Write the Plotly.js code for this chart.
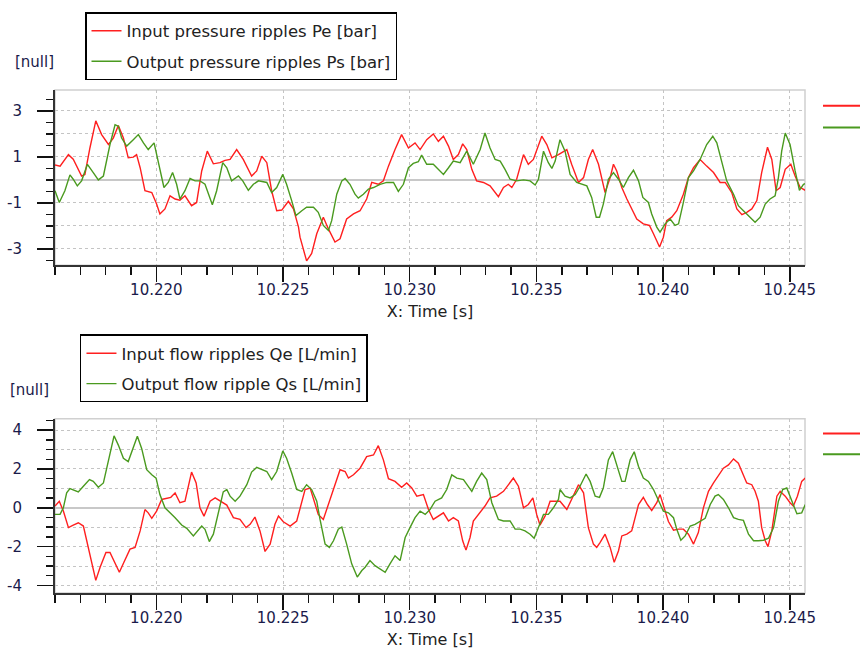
<!DOCTYPE html>
<html>
<head>
<meta charset="utf-8">
<script src="https://cdn.plot.ly/plotly-3.0.1.min.js"></script>
<style>html,body{margin:0;padding:0;background:#fff;}#chart{width:860px;height:662px;}</style>
</head>
<body>
<div id="chart"></div>
<script>
// Time origin (s); time offsets are in milliseconds
const T0 = 10.216;

// Top chart: Input pressure ripples Pe [bar]
const peMs = [0,0.20,0.53,0.72,1.05,1.18,1.38,1.61,1.84,2.11,2.30,2.50,2.70,2.89,3.09,3.22,3.36,3.55,3.82,4.01,4.14,4.34,4.54,4.74,4.93,5.13,5.39,5.59,5.79,6.01,6.25,6.51,6.71,6.91,7.17,7.43,7.76,7.96,8.16,8.36,8.55,8.75,8.95,9.21,9.41,9.61,9.67,
  9.93,10.13,10.33,10.59,10.79,11.05,11.25,11.51,11.78,12.04,12.30,12.50,12.76,12.96,13.16,13.42,13.68,13.95,14.21,14.41,14.67,14.93,15.13,15.33,15.53,15.72,15.92,16.09,16.25,16.45,16.64,16.91,17.17,17.50,17.70,17.89,18.03,18.22,18.49,18.68,18.88,19.21,19.41,19.61,19.87,
  20.20,20.39,20.66,20.86,21.05,21.22,21.45,21.71,21.91,22.04,22.17,22.37,22.57,22.76,22.96,23.22,23.46,23.62,23.86,24.01,24.14,24.34,24.54,24.80,25.00,25.20,25.46,25.72,25.99,26.25,26.45,26.71,26.91,27.11,27.30,27.50,27.70,27.89,28.12,28.29,28.46,28.62,28.82,29.04,29.21,29.41,29.61];
const peVal = [0.65,0.60,1.10,0.90,0.17,0.24,1.40,2.57,1.97,1.54,1.82,2.37,1.82,0.96,0.99,1.10,0.53,-0.47,-0.55,-1.05,-1.48,-1.26,-0.69,-0.83,-0.88,-0.69,-1.12,-0.98,0.39,1.25,0.70,0.75,0.85,0.89,1.32,0.89,0.17,0.39,1.03,0.75,-0.47,-1.34,-1.31,-0.93,-1.26,-2.05,-2.49,
  -3.52,-3.20,-2.34,-1.62,-2.13,-2.70,-2.56,-1.70,-1.48,-1.34,-0.83,-0.11,-0.19,-0.04,0.60,1.32,1.97,1.39,1.61,1.32,1.75,2.00,1.68,1.90,1.47,0.89,1.10,1.57,1.32,0.46,-0.04,-0.11,-0.26,-0.73,-0.33,-0.19,-0.33,0.03,1.10,0.68,0.89,1.90,1.54,0.96,1.10,
  1.32,0.68,-0.11,0.10,0.89,1.32,0.68,-0.55,0.10,0.68,0.39,-0.33,-0.83,-1.26,-1.70,-1.91,-1.98,-2.34,-2.92,-2.49,-1.77,-1.62,-1.34,-0.62,0.10,0.53,0.89,0.60,0.32,-0.11,-0.11,-0.55,-1.26,-1.51,-1.41,-1.26,-0.90,0.32,1.42,0.89,-0.47,-0.33,0.46,0.68,0.17,-0.33,-0.45];

// Top chart: Output pressure ripples Ps [bar]
const psMs = [0,0.17,0.39,0.59,0.72,0.88,1.05,1.28,1.51,1.71,1.91,2.17,2.37,2.50,2.63,2.83,3.09,3.29,3.49,3.68,3.91,4.08,4.30,4.47,4.64,4.80,4.93,5.13,5.33,5.53,5.72,5.92,6.05,6.21,6.38,6.62,6.78,6.97,7.24,7.41,7.63,7.83,8.03,8.36,8.55,8.75,8.99,9.14,9.34,9.51,
  9.74,9.93,10.20,10.39,10.59,10.79,10.92,11.12,11.32,11.45,11.64,11.84,11.97,12.17,12.37,12.57,12.83,13.09,13.36,13.55,13.75,13.95,14.14,14.34,14.47,14.67,14.93,15.13,15.33,15.53,15.72,15.99,16.25,16.51,16.78,16.97,17.17,17.37,17.57,17.76,17.96,18.22,18.49,18.75,18.95,19.08,19.28,19.47,19.61,19.74,19.93,
  20.13,20.33,20.59,20.79,20.99,21.18,21.36,21.49,21.64,21.84,22.04,22.24,22.43,22.63,22.83,23.03,23.20,23.42,23.55,23.75,23.88,24.08,24.28,24.47,24.61,24.80,25.00,25.20,25.46,25.72,25.96,26.12,26.32,26.51,26.78,26.97,27.17,27.43,27.63,27.83,28.03,28.22,28.42,28.55,28.68,28.82,29.01,29.21,29.38,29.54,29.61];
const psVal = [-0.47,-0.98,-0.47,0.22,0.03,-0.26,-0.04,0.68,0.32,0.00,0.17,1.54,2.40,2.33,1.82,1.47,1.75,1.97,1.61,1.32,1.61,0.82,-0.33,-0.11,0.32,-0.19,-0.83,-0.47,0.06,-0.04,-0.04,-0.19,-0.62,-1.08,-0.47,0.75,0.53,-0.04,0.17,-0.04,-0.45,-0.19,-0.04,-0.11,-0.55,-0.33,0.24,-0.19,-0.90,-1.55,
  -1.34,-1.19,-1.19,-1.41,-1.98,-2.20,-1.77,-0.62,-0.04,0.06,-0.19,-0.62,-0.79,-0.62,-0.40,-0.33,-0.19,-0.11,-0.11,-0.50,-0.19,0.53,0.72,0.79,1.08,0.68,0.68,0.46,0.24,0.53,0.82,0.75,1.25,0.68,1.32,2.04,1.39,0.89,0.82,0.46,0.03,-0.04,0.00,-0.04,-0.22,0.03,1.25,0.75,0.50,0.82,1.75,
  1.25,0.24,-0.11,-0.19,-0.26,-0.76,-1.62,-1.62,-1.05,0.03,0.32,0.03,-0.33,0.10,0.42,-0.04,-0.76,-0.98,-1.48,-2.05,-2.27,-1.91,-1.70,-1.98,-1.91,-0.98,0.10,0.39,0.89,1.54,1.90,1.61,0.82,-0.04,-0.62,-1.12,-1.34,-1.62,-1.84,-1.62,-1.05,-0.83,-0.69,0.10,1.25,2.04,1.54,0.39,-0.45,-0.19,-0.16];

// Bottom chart: Input flow ripples Qe [L/min]
const qeMs = [0,0.17,0.33,0.53,0.72,0.92,1.12,1.32,1.45,1.61,1.78,2.01,2.17,2.37,2.54,2.72,2.96,3.16,3.36,3.55,3.68,3.82,4.01,4.21,4.41,4.57,4.74,4.93,5.13,5.39,5.57,5.72,5.88,6.12,6.32,6.51,6.78,7.04,7.30,7.54,7.70,7.89,8.09,8.29,8.49,8.68,8.82,9.01,9.28,9.54,
  9.67,9.87,10.07,10.20,10.39,10.59,10.79,11.05,11.25,11.45,11.58,11.78,12.04,12.30,12.57,12.76,12.96,13.16,13.42,13.68,13.88,14.08,14.28,14.54,14.74,14.93,15.13,15.33,15.53,15.72,15.92,16.09,16.22,16.38,16.51,16.71,16.97,17.17,17.43,17.70,17.89,18.09,18.29,18.49,18.68,18.86,19.01,19.14,19.34,19.54,19.74,19.93,
  20.20,20.39,20.66,20.86,21.05,21.25,21.38,21.51,21.71,21.91,22.07,22.24,22.37,22.57,22.76,23.03,23.22,23.38,23.55,23.75,23.88,24.04,24.21,24.41,24.61,24.80,25.00,25.20,25.39,25.59,25.79,25.99,26.18,26.38,26.58,26.78,26.97,27.17,27.30,27.50,27.63,27.76,27.89,28.03,28.14,28.29,28.49,28.62,28.82,29.01,29.14,29.30,29.47,29.61];
const qeVal = [0.09,0.34,-0.17,-1.02,-0.89,-0.77,-0.94,-2.04,-2.89,-3.74,-3.06,-2.30,-2.30,-2.89,-3.32,-2.81,-2.13,-2.04,-1.19,-0.09,-0.26,-0.54,-0.17,0.43,0.51,0.54,0.77,0.26,0.34,1.84,1.28,0.00,-0.43,0.34,0.51,0.34,0.14,-0.51,-0.60,-1.02,-0.85,-0.48,-1.19,-2.25,-1.87,-0.85,-0.43,-0.72,-0.94,-0.68,
  -0.09,0.94,1.02,0.51,-0.34,-0.60,0.17,1.19,1.96,1.87,1.53,1.70,2.04,2.64,2.72,3.20,2.47,1.50,1.36,1.06,1.28,1.02,0.60,0.68,-0.09,-0.60,-0.43,-0.26,-0.68,-0.51,-0.68,-1.70,-2.18,-1.53,-0.68,-0.34,0.09,0.51,0.60,0.85,1.19,1.53,1.11,0.00,0.17,0.51,-0.34,-0.89,-0.43,0.34,0.34,0.34,
  -0.09,0.43,1.19,0.77,-1.02,-1.87,-2.04,-1.79,-1.36,-2.04,-2.81,-2.21,-1.45,-1.36,-1.19,0.17,0.54,0.17,-0.14,0.26,0.68,0.00,-0.71,-1.15,-1.10,-1.10,-1.36,-1.87,-1.28,0.00,0.85,1.28,1.62,2.04,2.21,2.52,2.30,1.62,1.28,1.19,0.85,0.34,-1.02,-1.70,-2.00,-1.19,0.60,0.85,0.60,0.26,0.09,0.60,1.36,1.53];

// Bottom chart: Output flow ripple Qs [L/min]
const qsMs = [0,0.20,0.33,0.46,0.59,0.75,0.92,1.12,1.36,1.51,1.71,1.91,2.11,2.33,2.50,2.70,2.89,3.09,3.25,3.42,3.62,3.82,3.99,4.14,4.34,4.54,4.74,5.00,5.20,5.46,5.62,5.79,5.92,6.09,6.25,6.45,6.64,6.78,6.91,7.11,7.30,7.57,7.76,7.96,8.16,8.36,8.55,8.75,8.99,9.14,9.34,9.54,
  9.74,9.93,10.13,10.33,10.46,10.66,10.83,10.99,11.18,11.32,11.51,11.71,11.93,12.11,12.24,12.43,12.63,12.83,13.03,13.22,13.42,13.62,13.82,14.01,14.21,14.41,14.61,14.80,15.00,15.26,15.46,15.66,15.86,16.12,16.32,16.45,16.64,16.84,17.04,17.24,17.50,17.70,17.96,18.16,18.36,18.55,18.75,18.91,19.08,19.28,19.47,19.67,19.87,
  19.93,20.13,20.33,20.53,20.72,20.96,21.12,21.32,21.49,21.64,21.84,22.01,22.20,22.37,22.50,22.70,22.86,23.03,23.22,23.42,23.62,23.82,24.01,24.21,24.41,24.54,24.70,24.87,25.07,25.26,25.46,25.66,25.86,26.05,26.18,26.38,26.58,26.78,26.97,27.17,27.37,27.57,27.76,27.96,28.16,28.36,28.55,28.72,28.88,29.08,29.28,29.47,29.61];
const qsVal = [-0.34,-0.34,0.00,0.77,0.99,0.89,0.82,1.11,1.45,1.36,1.06,1.28,2.38,3.71,3.23,2.55,2.38,3.06,3.69,3.06,1.96,1.70,1.53,0.68,0.00,-0.26,-0.51,-0.89,-1.06,-1.45,-1.19,-0.94,-1.11,-1.74,-1.36,-0.17,0.82,0.94,0.60,0.34,0.60,1.19,1.84,2.08,1.96,1.87,1.45,1.87,2.93,2.55,1.79,0.95,
  0.85,1.19,0.94,0.34,-0.60,-1.87,-2.04,-1.70,-1.10,-0.99,-1.87,-2.89,-3.57,-3.23,-3.06,-2.72,-2.98,-3.15,-3.32,-2.89,-2.47,-2.72,-1.53,-1.02,-0.51,-0.17,-0.34,-0.09,0.34,0.51,0.94,1.70,1.53,1.45,1.11,0.85,1.36,1.79,1.45,0.26,-0.60,-0.68,-0.68,-1.10,-1.10,-1.19,-1.36,-1.57,-1.02,-0.34,-0.34,0.00,0.43,
  0.94,0.60,0.51,0.68,1.11,1.74,1.36,0.60,0.54,1.02,2.47,2.89,2.04,1.36,1.36,2.47,2.89,2.13,1.53,1.36,0.94,0.34,-0.17,-0.26,-0.51,-1.11,-1.67,-1.45,-0.94,-0.85,-0.68,-0.54,0.17,0.60,0.68,0.43,0.00,-0.51,-0.60,-0.65,-1.36,-1.70,-1.70,-1.67,-1.57,-1.02,0.34,0.94,1.02,0.34,-0.31,-0.26,0.17];

const seriesNames = ['Input pressure ripples Pe [bar]', 'Output pressure ripples Ps [bar]',
                     'Input flow ripples Qe [L/min]', 'Output flow ripple Qs [L/min]'];
const topTickVals = [-3, -1, 1, 3];
const topTickText = ['-3', '-1', '1', '3'];
const topGridVals = [-3, -2, -1, 1, 2, 3];
const botTickVals = [-4, -2, 0, 2, 4];
const botTickText = ['-4', '-2', '0', '2', '4'];
const botGridVals = [-4, -3, -2, -1, 1, 2, 3, 4];
const xRange = [10.216, 10.2456];
const unitLabel = '[null]';
const xTitle = 'X: Time [s]';

const RED = '#ff1f1f', GREEN = '#4a9a1f';
const toSec = ms => ms.map(v => T0 + v / 1000);
const FONT = 'DejaVu Sans, Verdana, sans-serif';
const tickFont = {family: FONT, size: 15, color: '#1a1a4a'};

const traces = [
  {x: toSec(peMs), y: peVal, name: seriesNames[0], type: 'scatter', mode: 'lines', line: {color: RED, width: 1.4}, xaxis: 'x', yaxis: 'y', legend: 'legend', legendgroup: 'a'},
  {x: toSec(psMs), y: psVal, name: seriesNames[1], type: 'scatter', mode: 'lines', line: {color: GREEN, width: 1.4}, xaxis: 'x', yaxis: 'y', legend: 'legend', legendgroup: 'b'},
  {x: toSec(qeMs), y: qeVal, name: seriesNames[2], type: 'scatter', mode: 'lines', line: {color: RED, width: 1.4}, xaxis: 'x2', yaxis: 'y2', legend: 'legend2', legendgroup: 'c'},
  {x: toSec(qsMs), y: qsVal, name: seriesNames[3], type: 'scatter', mode: 'lines', line: {color: GREEN, width: 1.4}, xaxis: 'x2', yaxis: 'y2', legend: 'legend2', legendgroup: 'd'},
  // empty helper traces so the grid-only overlay axes get drawn
  {x: [], y: [], xaxis: 'x', yaxis: 'y3', showlegend: false, hoverinfo: 'skip', type: 'scatter', mode: 'lines'},
  {x: [], y: [], xaxis: 'x2', yaxis: 'y4', showlegend: false, hoverinfo: 'skip', type: 'scatter', mode: 'lines'}
];

function xAxis(anchor) {
  return {
    anchor: anchor, domain: [0, 1], range: xRange,
    tickmode: 'linear', tick0: 10.22, dtick: 0.005, tickformat: '.3f',
    ticks: 'outside', ticklen: 15, tickwidth: 1.5, tickcolor: '#111',
    showline: true, linecolor: '#333', linewidth: 2,
    showgrid: true, gridcolor: '#c4c4c4', griddash: 'dot', gridwidth: 1,
    zeroline: false,
    minor: {tickmode: 'linear', tick0: 10.216, dtick: 0.001, ticks: 'outside', ticklen: 8, tickwidth: 1.5, tickcolor: '#111', showgrid: false},
    tickfont: tickFont, ticklabelstandoff: -5,
    title: {text: xTitle, font: {family: FONT, size: 16, color: '#222'}, standoff: 8},
    fixedrange: true
  };
}
function yAxis(anchor, domain, range, tickvals, ticktext) {
  return {
    anchor: anchor, domain: domain, range: range,
    tickmode: 'array', tickvals: tickvals, ticktext: ticktext,
    ticks: 'outside', ticklen: 16, tickwidth: 1.5, tickcolor: '#111',
    showline: true, linecolor: '#333', linewidth: 2,
    showgrid: false,
    zeroline: true, zerolinecolor: '#c8c8c8', zerolinewidth: 2,
    minor: {tickmode: 'linear', tick0: 0, dtick: 0.5, ticks: 'outside', ticklen: 7, tickwidth: 1.5, tickcolor: '#111', showgrid: false},
    tickfont: tickFont, ticklabelstandoff: 12,
    fixedrange: true
  };
}
function gridAxis(overlay, range, tickvals) {
  return {
    overlaying: overlay, anchor: overlay === 'y' ? 'x' : 'x2', range: range,
    tickmode: 'array', tickvals: tickvals, ticks: '', showticklabels: false,
    showline: false, zeroline: false,
    showgrid: true, gridcolor: '#c4c4c4', griddash: 'dot', gridwidth: 1,
    fixedrange: true
  };
}

const topRange = [-3.71, 3.91];
const botRange = [-4.39, 4.59];

const legendBase = {
  xanchor: 'left', yanchor: 'top', bgcolor: '#ffffff',
  bordercolor: '#000000', borderwidth: 1.5,
  font: {family: FONT, size: 16.5, color: '#222'},
  traceorder: 'grouped', tracegroupgap: 6
};

const layout = {
  width: 860, height: 662,
  margin: {l: 55, r: 55, t: 85, b: 69},
  paper_bgcolor: '#ffffff', plot_bgcolor: '#ffffff',
  font: {family: FONT, color: '#222'},
  showlegend: true,
  xaxis: xAxis('y'),
  yaxis: yAxis('x', [0.6516, 1], topRange, topTickVals, topTickText),
  yaxis3: gridAxis('y', topRange, topGridVals),
  xaxis2: xAxis('y2'),
  yaxis2: yAxis('x2', [0, 0.3465], botRange, botTickVals, botTickText),
  yaxis4: gridAxis('y2', botRange, botGridVals),
  legend: Object.assign({x: 0.04, y: 1.155}, legendBase),
  legend2: Object.assign({x: 0.0333, y: 0.514}, legendBase),
  annotations: [
    {text: unitLabel, xref: 'paper', yref: 'paper', x: -0.056, y: 1.055, xanchor: 'left', yanchor: 'middle', showarrow: false, font: {family: FONT, size: 15, color: '#1a1a4a'}},
    {text: unitLabel, xref: 'paper', yref: 'paper', x: -0.063, y: 0.4035, xanchor: 'left', yanchor: 'middle', showarrow: false, font: {family: FONT, size: 15, color: '#1a1a4a'}}
  ],
  shapes: [
    {type: 'rect', xref: 'x domain', yref: 'y domain', x0: 0, x1: 1, y0: 0, y1: 1, line: {color: '#d0d0d0', width: 1.5}, layer: 'below'},
    {type: 'rect', xref: 'x2 domain', yref: 'y2 domain', x0: 0, x1: 1, y0: 0, y1: 1, line: {color: '#d0d0d0', width: 1.5}, layer: 'below'},
    {type: 'line', xref: 'paper', yref: 'paper', x0: 1.024, x1: 1.08, y0: 0.9685, y1: 0.9685, line: {color: RED, width: 2}},
    {type: 'line', xref: 'paper', yref: 'paper', x0: 1.024, x1: 1.08, y0: 0.9252, y1: 0.9252, line: {color: GREEN, width: 2}},
    {type: 'line', xref: 'paper', yref: 'paper', x0: 1.024, x1: 1.08, y0: 0.3169, y1: 0.3169, line: {color: RED, width: 2}},
    {type: 'line', xref: 'paper', yref: 'paper', x0: 1.024, x1: 1.08, y0: 0.2756, y1: 0.2756, line: {color: GREEN, width: 2}}
  ]
};

Plotly.newPlot('chart', traces, layout, {displayModeBar: false, staticPlot: true});
</script>
</body>
</html>
